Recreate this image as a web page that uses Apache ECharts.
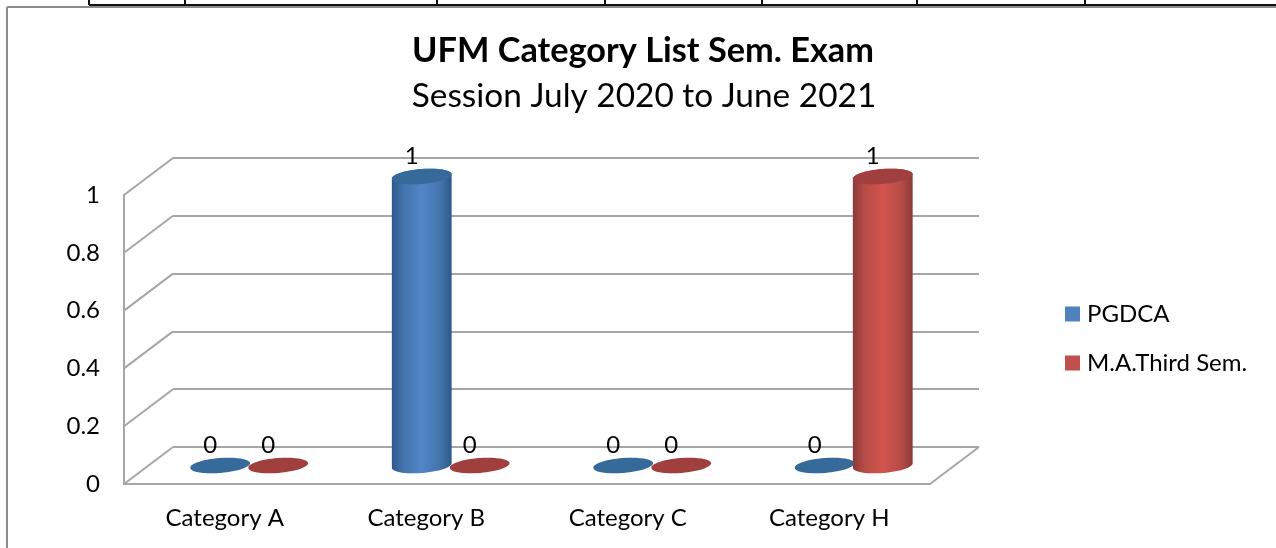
<!DOCTYPE html>
<html>
<head>
<meta charset="utf-8">
<title>UFM Category List</title>
<script src="https://cdn.jsdelivr.net/npm/echarts@6/dist/echarts.min.js"></script>
<style>
  html, body { margin: 0; padding: 0; background: #fff; }
  #chart { width: 1276px; height: 548px; }
</style>
</head>
<body>
<div id="chart"></div>
<script>
const categories = ['Category A', 'Category B', 'Category C', 'Category H'];
const pgdca = [0, 1, 0, 0];
const maThird = [0, 0, 0, 1];
const yTicks = [0, 0.2, 0.4, 0.6, 0.8, 1];

const FONT = 'Lato';
const GRID_COLOR = '#a6a6a6';
// how far the back wall sits from the front plane
const DEPTH_X = 49, DEPTH_Y = -37;
const BAR_RX = 30, BAR_RY = 7.5, BAR_TILT = 0.08;

// point on the tilted ellipse, angle in radians
function rimPoint(cx, cy, a) {
  const x = BAR_RX * Math.cos(a), y = BAR_RY * Math.sin(a);
  return [
    cx + x * Math.cos(BAR_TILT) + y * Math.sin(BAR_TILT),
    cy - x * Math.sin(BAR_TILT) + y * Math.cos(BAR_TILT)
  ];
}

function cylinder(offset, edge, side, mid, cap) {
  return function (params, api) {
    const val = api.value(1);
    const base = api.coord([api.value(0), 0]);
    const top = api.coord([api.value(0), val]);
    const cx = base[0] + DEPTH_X / 2 + offset;
    const by = base[1] + DEPTH_Y / 2;
    const ty = top[1] + DEPTH_Y / 2;
    const children = [];
    if (val > 0) {
      const pts = [];
      for (let a = 0; a <= 180; a += 6) pts.push(rimPoint(cx, by, a * Math.PI / 180));
      for (let a = 180; a <= 360; a += 6) pts.push(rimPoint(cx, ty, a * Math.PI / 180));
      children.push({
        type: 'polygon',
        shape: { points: pts },
        style: {
          fill: new echarts.graphic.LinearGradient(0, 0, 1, 0, [
            { offset: 0, color: edge },
            { offset: 0.2, color: side },
            { offset: 0.5, color: mid },
            { offset: 0.8, color: side },
            { offset: 1, color: edge }
          ])
        }
      });
    }
    children.push({
      type: 'ellipse',
      x: cx, y: ty, rotation: BAR_TILT,
      shape: { cx: 0, cy: 0, rx: BAR_RX, ry: BAR_RY },
      style: { fill: cap }
    });
    children.push({
      type: 'text',
      x: cx - 10, y: ty - 20,
      style: {
        text: String(val), font: '24px ' + FONT, fill: '#000',
        align: 'center', verticalAlign: 'middle'
      }
    });
    return { type: 'group', children: children };
  };
}

// side diagonals of the walls and of the floor
function renderFrame(params, api) {
  const left = params.coordSys.x;
  const right = left + params.coordSys.width;
  const y = api.coord([0, api.value(0)])[1];
  const style = { stroke: GRID_COLOR, lineWidth: 2 };
  const children = [{
    type: 'line',
    shape: { x1: left, y1: y, x2: left + DEPTH_X, y2: y + DEPTH_Y },
    style: style
  }];
  if (api.value(0) === 0) {
    children.push({
      type: 'line',
      shape: { x1: right, y1: y, x2: right + DEPTH_X, y2: y + DEPTH_Y },
      style: style
    });
  }
  return { type: 'group', children: children };
}

function pageLines() {
  const black = { stroke: '#111', lineWidth: 2 };
  const gray = { stroke: '#8c8c8c', lineWidth: 2 };
  const out = [
    { type: 'line', shape: { x1: 89, y1: 5, x2: 1276, y2: 5 }, style: black },
    { type: 'line', shape: { x1: 7, y1: 7, x2: 1276, y2: 7 }, style: gray },
    { type: 'line', shape: { x1: 7, y1: 7, x2: 7, y2: 548 }, style: gray }
  ];
  [89, 185, 437, 605, 762, 917, 1085].forEach(function (x) {
    out.push({ type: 'line', shape: { x1: x, y1: 0, x2: x, y2: 5 }, style: black });
  });
  return out;
}

const myChart = echarts.init(document.getElementById('chart'));
myChart.setOption({
  animation: false,
  title: [
    {
      text: 'UFM Category List Sem. Exam',
      left: 638, top: 29, textAlign: 'center',
      textStyle: { fontFamily: FONT, fontSize: 34.3, fontWeight: 'bold', color: '#000' }
    },
    {
      text: 'Session July 2020 to June 2021',
      left: 639, top: 75, textAlign: 'center',
      textStyle: { fontFamily: FONT, fontSize: 33.4, fontWeight: 'normal', color: '#000' }
    }
  ],
  legend: {
    data: ['PGDCA', 'M.A.Third Sem.'],
    orient: 'vertical',
    left: 1065, top: 302,
    padding: 0,
    itemWidth: 15, itemHeight: 15, itemGap: 25,
    icon: 'rect',
    textStyle: { fontFamily: FONT, fontSize: 24, color: '#000', padding: [0, 0, 0, 2] }
  },
  grid: [
    { left: 124, top: 195, width: 806, height: 289 },
    { left: 173, top: 158, width: 806, height: 289 }
  ],
  xAxis: [
    {
      type: 'category', data: categories, gridIndex: 0,
      axisLine: { lineStyle: { color: GRID_COLOR, width: 2 } },
      axisTick: { show: false },
      axisLabel: { fontFamily: FONT, fontSize: 24, color: '#000', margin: 22 }
    },
    { type: 'category', data: categories, gridIndex: 1, show: false }
  ],
  yAxis: [
    {
      type: 'value', min: 0, max: 1, interval: 0.2, gridIndex: 0,
      axisLine: { show: true, lineStyle: { color: GRID_COLOR, width: 2 } },
      axisTick: { show: false },
      splitLine: { show: false },
      axisLabel: { fontFamily: FONT, fontSize: 24, color: '#000', margin: 24, padding: [3, 0, 0, 0] }
    },
    {
      type: 'value', min: 0, max: 1, interval: 0.2, gridIndex: 1,
      axisLine: { show: false },
      axisTick: { show: false },
      axisLabel: { show: false },
      splitLine: { show: true, lineStyle: { color: GRID_COLOR, width: 2 } }
    }
  ],
  graphic: pageLines(),
  series: [
    {
      type: 'custom', name: 'frame', silent: true, z: 1,
      xAxisIndex: 0, yAxisIndex: 0,
      data: yTicks.map(function (v) { return [v]; }),
      encode: { y: 0 },
      renderItem: renderFrame
    },
    {
      type: 'custom', name: 'PGDCA', z: 3,
      xAxisIndex: 0, yAxisIndex: 0,
      itemStyle: { color: '#4f81bd' },
      data: pgdca.map(function (v, i) { return [i, v]; }),
      encode: { x: 0, y: 1 },
      renderItem: cylinder(-29, '#2c5a8c', '#4474ad', '#5286c6', '#366a9b')
    },
    {
      type: 'custom', name: 'M.A.Third Sem.', z: 3,
      xAxisIndex: 0, yAxisIndex: 0,
      itemStyle: { color: '#c0504d' },
      data: maThird.map(function (v, i) { return [i, v]; }),
      encode: { x: 0, y: 1 },
      renderItem: cylinder(29, '#8a3a38', '#b84b47', '#d2544d', '#a03f3d')
    }
  ]
});
</script>
</body>
</html>
